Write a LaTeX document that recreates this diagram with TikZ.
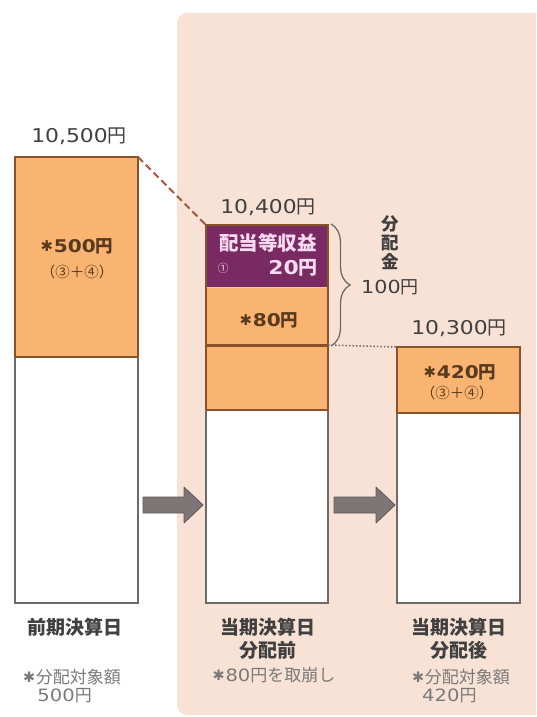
\documentclass[tikz,border=0pt]{standalone}
\usepackage{fontspec}
\usepackage{graphicx}
\setmainfont{Noto Sans CJK JP}
\newfontfamily\dejavu{DejaVu Sans}
\usetikzlibrary{decorations.pathreplacing}
\definecolor{pinkbg}{HTML}{F8E2D6}
\definecolor{orangef}{HTML}{F8B470}
\definecolor{purplef}{HTML}{7A2A62}
\definecolor{brownline}{HTML}{8A5228}
\definecolor{grayline}{HTML}{6E6A6A}
\definecolor{numtext}{HTML}{404040}
\definecolor{browntext}{HTML}{5A3A1E}
\definecolor{pinktext}{HTML}{F6DAF0}
\definecolor{lighttext}{HTML}{7A7A7A}
\definecolor{arrowfill}{HTML}{7D7576}
\definecolor{arrowdraw}{HTML}{5E5859}
\definecolor{dashred}{HTML}{A8553A}
\newcommand{\nm}[1]{\scalebox{1.15}[1]{\dejavu #1}}
\newcommand{\myast}{\raisebox{0.06em}{\scalebox{0.85}{\dejavu ✱}}\hspace{0.05em}}
\tikzset{
  total/.style={font=\fontsize{19}{21}\selectfont, text=numtext, inner sep=0pt},
  amount/.style={font=\bfseries\fontsize{17.5}{20}\selectfont, text=browntext, inner sep=0pt},
  sub/.style={font=\fontsize{14.5}{16}\selectfont, text=browntext, inner sep=0pt},
  datelabel/.style={font=\bfseries\fontsize{19}{23}\selectfont, text=numtext, inner sep=0pt, align=center},
  note/.style={font=\fontsize{17}{18}\selectfont, text=lighttext, inner sep=0pt, align=left},
  boxline/.style={draw=grayline, line width=1.5pt},
  colline/.style={draw=brownline, line width=1.5pt},
  blockarrow/.style={fill=arrowfill, draw=arrowdraw, line width=0.8pt, line join=round},
}
\begin{document}
\begin{tikzpicture}[x=1pt,y=-1pt]
\useasboundingbox (0,0) rectangle (536,717);
\fill[white] (0,0) rectangle (536,717);
\begin{scope}
\clip (0,0) rectangle (536,717);
\fill[pinkbg, rounded corners=10pt] (177,13) rectangle (560,715);
\end{scope}

% Box 1
\coordinate (b1tl) at (15,157);
\coordinate (b1tr) at (138,157);
\fill[white] (15,357) rectangle (138,603);
\fill[orangef] (15,157) rectangle (138,357);
\draw[boxline] (15,357) -- (15,603) -- (138,603) -- (138,357);
\draw[colline] (15,357) -- (15,157) -- (138,157) -- (138,357);
\draw[draw=brownline, line width=1.5pt] (15,357) -- (138,357);

% Box 2
\coordinate (b2tl) at (206,225);
\coordinate (b2r) at (328,345);
\fill[white] (206,410) rectangle (328,603);
\fill[orangef] (206,287) rectangle (328,410);
\fill[purplef] (206,225) rectangle (328,287);
\draw[boxline] (206,410) -- (206,603) -- (328,603) -- (328,410);
\draw[colline] (206,410) -- (206,225) -- (328,225) -- (328,410);
\draw[draw=brownline, line width=1.2pt] (206,410) -- (328,410);
\draw[draw=brownline, line width=3pt] (206,345) -- (328,345);
\draw[draw=pinktext, line width=1pt, densely dotted] (207,287) -- (327,287);

% Box 3
\coordinate (b3l) at (397,347);
\fill[white] (397,413) rectangle (520,603);
\fill[orangef] (397,347) rectangle (520,413);
\draw[boxline] (397,413) -- (397,603) -- (520,603) -- (520,413);
\draw[colline] (397,413) -- (397,347) -- (520,347) -- (520,413);
\draw[draw=brownline, line width=1.2pt] (397,413) -- (520,413);

% connectors
\draw[dashred, line width=2pt, dash pattern=on 7pt off 4pt] (b1tr) -- (b2tl);
\draw[grayline, line width=1.5pt, dash pattern=on 1.5pt off 2pt] (b2r) -- (b3l);

% brace
\coordinate (brtop) at (331,224);
\coordinate (brbot) at (331,346);
\draw[grayline, line width=1.3pt, decorate, decoration={brace, amplitude=19pt, aspect=0.5}] (brtop) -- (brbot);

% block arrows
\fill[blockarrow] (143,497) -- (184,497) -- (184,487) -- (203,505) -- (184,523) -- (184,513) -- (143,513) -- cycle;
\fill[blockarrow] (334,497) -- (376,497) -- (376,487) -- (395,505) -- (376,523) -- (376,513) -- (334,513) -- cycle;

% texts
\node[total] (t1) at (79,136) {\nm{10,500}円};
\node[total] (t2) at (268,207) {\nm{10,400}円};
\node[total] (t3) at (459,328) {\nm{10,300}円};

\node[amount] (a1) at (77,246) {\myast\nm{500}円};
\node[sub] (s1) at (77,272) {（③＋④）};
\node[amount, text=pinktext, font=\bfseries\fontsize{19.5}{21}\selectfont] (p1) at (268,243) {配当等収益};
\node[sub, text=pinktext, font=\fontsize{11}{12}\selectfont] (p2) at (223,268) {①};
\node[amount, text=pinktext, font=\bfseries\fontsize{19}{21}\selectfont, anchor=east] (p3) at (318,268) {\nm{20}円};
\node[amount] (a2) at (269,320) {\myast\nm{80}円};
\node[amount] (a3) at (460,372) {\myast\nm{420}円};
\node[sub] (s3) at (457,393) {（③＋④）};

\node[font=\bfseries\fontsize{17.5}{19}\selectfont, text=numtext, inner sep=0pt, align=center] (bunpai) at (390,243) {分\\配\\金};
\node[total, font=\fontsize{18}{20}\selectfont, anchor=west] (hyaku) at (361,287) {\nm{100}円};

\node[datelabel] (d1) at (75,627) {前期決算日};
\node[datelabel] (d2) at (268,638.5) {当期決算日\\分配前};
\node[datelabel] (d3) at (459,638.5) {当期決算日\\分配後};
\node[note] (n1) at (72,686) {\myast 分配対象額\\\hspace{0.85em}\nm{500}円};
\node[note] (n2) at (274,675) {\myast\nm{80}円を取崩し};
\node[note] (n3) at (461,686) {\myast 分配対象額\\\hspace{0.6em}\nm{420}円};
\end{tikzpicture}
\end{document}
